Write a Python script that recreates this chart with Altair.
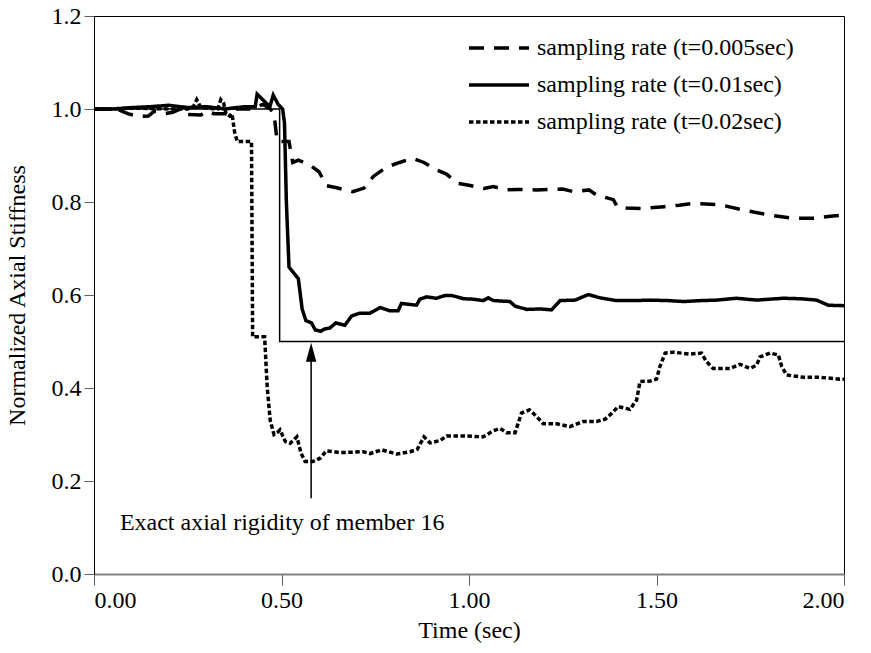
import altair as alt
import pandas as pd

# ---- data ----
t_005 = [0, 0.06, 0.09, 0.12, 0.145, 0.16, 0.19, 0.21, 0.23, 0.25, 0.285, 0.30, 0.32, 0.36, 0.38, 0.42, 0.45,
         0.47, 0.48, 0.487, 0.49, 0.52, 0.53, 0.545, 0.575, 0.60, 0.62, 0.65, 0.69, 0.72, 0.745, 0.78, 0.815,
         0.85, 0.88, 0.91, 0.94, 0.97, 1.0, 1.04, 1.065, 1.10, 1.13, 1.18, 1.25, 1.28, 1.32, 1.34, 1.385,
         1.395, 1.42, 1.46, 1.52, 1.56, 1.60, 1.67, 1.73, 1.80, 1.865, 1.92, 1.97, 2.0]
y_005 = [1.0, 1.0, 0.99, 0.984, 0.985, 0.995, 0.99, 0.993, 1.0, 0.988, 0.987, 0.995, 0.99, 0.99, 1.0, 1.0, 1.01,
         1.0, 0.99, 0.94, 0.93, 0.93, 0.885, 0.89, 0.88, 0.865, 0.835, 0.83, 0.822, 0.83, 0.855, 0.875, 0.885,
         0.894, 0.885, 0.87, 0.86, 0.84, 0.836, 0.829, 0.833, 0.826, 0.827, 0.826, 0.828, 0.822, 0.826, 0.815, 0.805,
         0.79, 0.787, 0.786, 0.79, 0.793, 0.797, 0.794, 0.783, 0.772, 0.765, 0.765, 0.77, 0.772]

t_01 = [0, 0.05, 0.10, 0.15, 0.2, 0.25, 0.30, 0.35, 0.40, 0.43, 0.435, 0.45, 0.469, 0.478, 0.491, 0.503, 0.508,
        0.513, 0.52, 0.535, 0.545, 0.555, 0.565, 0.58, 0.59, 0.605, 0.615, 0.629, 0.645, 0.669, 0.687, 0.709,
        0.736, 0.763, 0.789, 0.811, 0.82, 0.86, 0.869, 0.887, 0.913, 0.936, 0.954, 0.985, 1.011, 1.038, 1.051,
        1.065, 1.109, 1.123, 1.154, 1.189, 1.22, 1.243, 1.283, 1.318, 1.349, 1.393, 1.44, 1.483, 1.53, 1.572,
        1.62, 1.66, 1.713, 1.767, 1.838, 1.883, 1.927, 1.958, 2.0]
y_01 = [1.0, 1.0, 1.003, 1.005, 1.008, 1.003, 1.005, 1.0, 1.005, 1.005, 1.032, 1.02, 1.005, 1.03, 1.01, 1.0, 0.97,
        0.8, 0.66, 0.645, 0.635, 0.57, 0.545, 0.54, 0.525, 0.522, 0.527, 0.529, 0.54, 0.535, 0.555, 0.561,
        0.561, 0.573, 0.566, 0.566, 0.582, 0.578, 0.591, 0.596, 0.593, 0.599, 0.599, 0.592, 0.591, 0.588, 0.594,
        0.588, 0.586, 0.576, 0.569, 0.57, 0.568, 0.588, 0.589, 0.601, 0.594, 0.588, 0.588, 0.589, 0.588, 0.586,
        0.588, 0.589, 0.593, 0.589, 0.593, 0.592, 0.589, 0.578, 0.577]

t_02 = [0, 0.05, 0.10, 0.2, 0.25, 0.265, 0.274, 0.285, 0.33, 0.338, 0.346, 0.352, 0.362, 0.368, 0.375, 0.382,
        0.42, 0.423, 0.455, 0.462, 0.47, 0.48, 0.49, 0.496, 0.51, 0.523, 0.541, 0.552, 0.563, 0.584, 0.603, 0.62,
        0.656, 0.69, 0.718, 0.736, 0.767, 0.807, 0.843, 0.862, 0.88, 0.896, 0.923, 0.94, 0.985, 1.038, 1.065,
        1.083, 1.1, 1.123, 1.14, 1.161, 1.18, 1.198, 1.234, 1.269, 1.305, 1.34, 1.363, 1.381, 1.398, 1.429,
        1.447, 1.456, 1.483, 1.5, 1.509, 1.523, 1.545, 1.589, 1.62, 1.633, 1.651, 1.696, 1.723, 1.749, 1.767,
        1.776, 1.803, 1.825, 1.834, 1.847, 1.891, 1.936, 1.989, 2.0]
y_02 = [1.0, 1.0, 1.002, 1.0, 1.0, 1.005, 1.02, 1.003, 1.0, 1.02, 1.012, 0.99, 0.985, 0.99, 0.95, 0.93,
        0.93, 0.51, 0.51, 0.40, 0.33, 0.30, 0.305, 0.31, 0.285, 0.281, 0.295, 0.26, 0.242, 0.242, 0.249, 0.265,
        0.261, 0.262, 0.263, 0.259, 0.267, 0.258, 0.263, 0.268, 0.295, 0.282, 0.287, 0.297, 0.297, 0.295, 0.308,
        0.313, 0.304, 0.304, 0.346, 0.353, 0.339, 0.323, 0.323, 0.317, 0.328, 0.328, 0.333, 0.346, 0.36, 0.354,
        0.374, 0.414, 0.415, 0.419, 0.446, 0.475, 0.477, 0.473, 0.475, 0.457, 0.442, 0.442, 0.451, 0.442, 0.449,
        0.467, 0.475, 0.471, 0.446, 0.428, 0.423, 0.423, 0.419, 0.419]

t_exact = [0, 0.495, 0.495, 2.0]
y_exact = [1.0, 1.0, 0.5, 0.5]

series_names = ["sampling rate (t=0.005sec)", "sampling rate (t=0.01sec)", "sampling rate (t=0.02sec)"]

annot_text = ["Exact axial rigidity of member 16"]
annot_t = [0.069]
annot_y = [0.095]
arrow_t = [0.579]
arrow_y0 = [0.163]
arrow_y1 = [0.477]

x_ticks = [0, 0.5, 1.0, 1.5, 2.0]
y_ticks = [0, 0.2, 0.4, 0.6, 0.8, 1.0, 1.2]

# ---- build tables ----
rows = []
for name, ts, ys in zip(series_names, [t_005, t_01, t_02], [y_005, y_01, y_02]):
    for i, (t, y) in enumerate(zip(ts, ys)):
        rows.append({"series": name, "t": t, "y": y, "order": i})
df = pd.DataFrame(rows)
df_exact = pd.DataFrame({"t": t_exact, "y": y_exact, "order": list(range(len(t_exact)))})
df_annot = pd.DataFrame({"t": annot_t, "y": annot_y, "text": annot_text})
df_arrow = pd.DataFrame({"t": arrow_t, "y0": arrow_y0, "y1": arrow_y1})

FONT = "Liberation Serif"

x_scale = alt.Scale(domain=[0, 2], nice=False, zero=False)
y_scale = alt.Scale(domain=[0, 1.2], nice=False)

x_axis = alt.Axis(values=x_ticks, format=".2f", title="Time (sec)", grid=False,
                  domainColor="#808080", domainWidth=2, tickColor="#606060", tickSize=11,
                  labelPadding=3, titlePadding=6)
y_axis = alt.Axis(values=y_ticks, format=".1f", title="Normalized Axial Stiffness", grid=False,
                  domainColor="black", tickColor="#606060", tickSize=10, labelPadding=3, titlePadding=22)

lines = alt.Chart(df).mark_line(strokeWidth=3.5, color="black").encode(
    x=alt.X("t:Q", scale=x_scale, axis=x_axis),
    y=alt.Y("y:Q", scale=y_scale, axis=y_axis),
    strokeDash=alt.StrokeDash("series:N",
        scale=alt.Scale(domain=series_names, range=[[15, 10], [1, 0], [4.5, 2.5]]),
        legend=alt.Legend(title=None, orient="none", legendX=373, legendY=20,
                          symbolType="stroke", symbolSize=3600, symbolStrokeWidth=3.5,
                          symbolStrokeColor="black", labelFont=FONT, labelFontSize=24,
                          labelColor="black", labelLimit=0, rowPadding=13, labelOffset=6,
                          clipHeight=24, padding=0)),
    order="order:Q",
)

exact = alt.Chart(df_exact).mark_line(strokeWidth=1.5, color="black").encode(
    x="t:Q", y="y:Q", order="order:Q"
)

annot = alt.Chart(df_annot).mark_text(align="left", baseline="alphabetic", font=FONT,
                                      fontSize=24, color="black").encode(
    x="t:Q", y="y:Q", text="text:N"
)

arrow_line = alt.Chart(df_arrow).mark_rule(strokeWidth=1.5, color="black").encode(
    x="t:Q", y="y0:Q", y2="y1:Q"
)
arrow_head = alt.Chart(df_arrow).mark_point(shape="M0,-1L0.55,1L-0.55,1Z", size=361, filled=True,
                                            color="black", opacity=1).encode(
    x="t:Q", y="y1:Q"
)

chart = alt.layer(exact, lines, annot, arrow_line, arrow_head).properties(
    width=750, height=558,
    autosize=alt.AutoSizeParams(type="none"),
    padding={"left": 94, "top": 16, "right": 27, "bottom": 79},
    background="white",
).configure_view(stroke="black", strokeWidth=1).configure_axis(
    labelFont=FONT, labelFontSize=24, labelColor="black",
    titleFont=FONT, titleFontSize=24, titleFontWeight="normal", titleColor="black",
)

chart.save("out.html", embed_options={"renderer": "svg", "actions": False})
